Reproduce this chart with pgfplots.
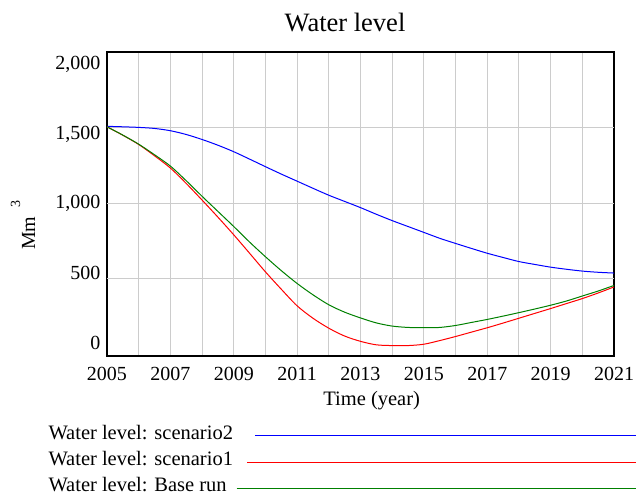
\documentclass[border=0pt]{standalone}
\usepackage{fontspec}
\setmainfont{Liberation Serif}
\usepackage{pgfplots}
\pgfplotsset{compat=1.18}
\definecolor{gridgray}{RGB}{204,204,204}
\definecolor{vgreen}{RGB}{0,128,0}
\begin{document}
\begin{tikzpicture}
\useasboundingbox (0,0) rectangle (636bp,495bp);
\begin{axis}[
 at={(107bp,139bp)}, anchor=south west,
 width=507bp, height=304bp, scale only axis,
 xmin=2005, xmax=2021, ymin=-12, ymax=2000,
 axis line style={line width=2bp, black},
 xtick={2005,2006,...,2021},
 xticklabels={2005,,2007,,2009,,2011,,2013,,2015,,2017,,2019,,2021},
 xmajorgrids,
 major grid style={gridgray, line width=1bp},
 ytick={76,539,1000,1453,1915},
 yticklabels={0,500,{1,000},{1,500},{2,000}},
 extra y ticks={500,1000,1500},
 extra y tick labels={},
 extra y tick style={grid=major},
 major tick length=0pt,
 tick label style={font=\fontsize{20bp}{24bp}\selectfont, inner sep=0pt},
 xticklabel style={anchor=north, yshift=-10.7bp},
 yticklabel style={anchor=east, xshift=-6.5bp},
]
\addplot[blue, line width=1bp, smooth, tension=0.5] coordinates {
(2005,1508) (2005.5,1505) (2006,1501) (2006.5,1494) (2007,1479) (2007.5,1454)
(2008,1421) (2008.5,1383) (2009,1340) (2009.5,1291) (2010,1241) (2010.5,1192)
(2011,1145) (2011.5,1098) (2012,1052) (2012.5,1011) (2013,970) (2013.5,926)
(2014,884) (2014.5,845) (2015,806) (2015.5,767) (2016,733) (2016.5,700)
(2017,668) (2017.5,640) (2018,613) (2018.5,594) (2019,576) (2019.5,562)
(2020,550) (2020.5,542) (2021,537)};
\addplot[red, line width=1bp, smooth, tension=0.5] coordinates {
(2005,1505) (2005.5,1449) (2006,1388) (2006.5,1313) (2007,1232) (2007.5,1130)
(2008,1020) (2008.5,907) (2009,790) (2009.5,668) (2010,545) (2010.5,430)
(2011,320) (2011.5,238) (2012,172) (2012.5,120) (2013,85) (2013.5,62)
(2014,57) (2014.5,57) (2015,66) (2015.5,90) (2016,117) (2016.5,146)
(2017,175) (2017.5,206) (2018,238) (2018.5,270) (2019,302) (2019.5,335)
(2020,368) (2020.5,405) (2021,445)};
\addplot[vgreen, line width=1bp, smooth, tension=0.5] coordinates {
(2005,1505) (2005.5,1450) (2006,1390) (2006.5,1320) (2007,1245) (2007.5,1148)
(2008,1045) (2008.5,945) (2009,845) (2009.5,742) (2010,645) (2010.5,553)
(2011,468) (2011.5,393) (2012,327) (2012.5,278) (2013,240) (2013.5,207)
(2014,186) (2014.5,177) (2015,175) (2015.5,177) (2016,190) (2016.5,210)
(2017,230) (2017.5,252) (2018,275) (2018.5,299) (2019,324) (2019.5,352)
(2020,385) (2020.5,418) (2021,455)};
\end{axis}
\node[anchor=base, inner sep=0pt, font=\fontsize{26.5bp}{30bp}\selectfont] at (345bp,463.3bp) {Water level};
\node[anchor=base, inner sep=0pt, font=\fontsize{20.5bp}{24bp}\selectfont] at (371.7bp,89bp) {Time (year)};
\node[anchor=base west, inner sep=0pt, rotate=90, font=\fontsize{20bp}{24bp}\selectfont] at (35bp,245bp) {Mm\hspace{0.45em}\raisebox{0.75em}{\fontsize{14bp}{14bp}\selectfont 3}};
\begin{scope}[font=\fontsize{20.5bp}{24bp}\selectfont]
\node[anchor=base west, inner sep=0pt] at (48.3bp,55.5bp) {Water level: scenario2};
\draw[blue, line width=1bp] (255bp,59.3bp) -- (636bp,59.3bp);
\node[anchor=base west, inner sep=0pt] at (48.3bp,29.3bp) {Water level: scenario1};
\draw[red, line width=1bp] (247.3bp,32.7bp) -- (636bp,32.7bp);
\node[anchor=base west, inner sep=0pt] at (48.3bp,3.6bp) {Water level: Base run};
\draw[vgreen, line width=1bp] (236.7bp,6.7bp) -- (636bp,6.7bp);
\end{scope}
\end{tikzpicture}
\end{document}
